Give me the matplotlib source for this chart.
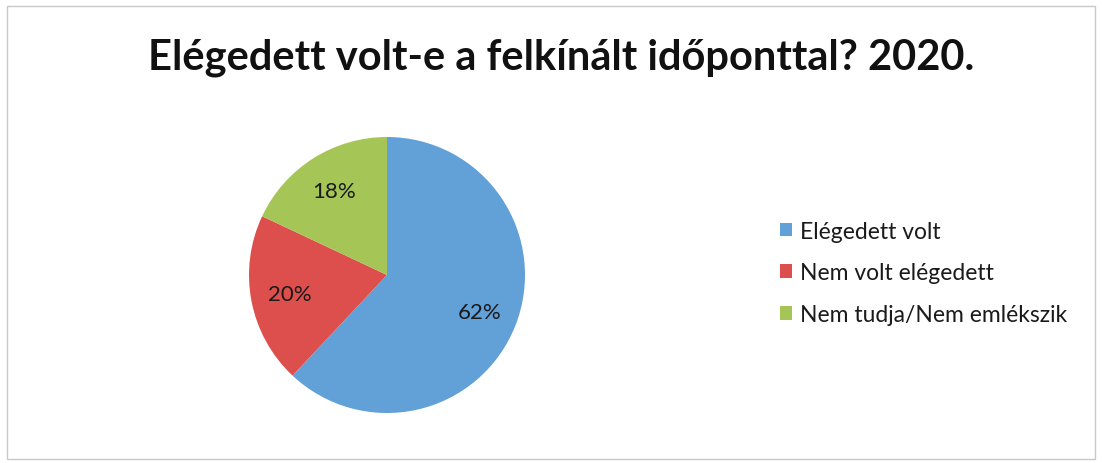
import matplotlib.pyplot as plt
from matplotlib.patches import Rectangle

plt.rcParams['font.family'] = ['Lato', 'DejaVu Sans']

title = 'Elégedett volt-e a felkínált időponttal? 2020.'
labels = ['Elégedett volt', 'Nem volt elégedett', 'Nem tudja/Nem emlékszik']
values = [62, 20, 18]
colors = ['#62a0d8', '#dd4f4c', '#a5c656']

fig = plt.figure(figsize=(11.02, 4.64), dpi=100)
fig.patches.append(Rectangle((7 / 1102, 4 / 464), 1088 / 1102, 453 / 464,
                             transform=fig.transFigure, fill=False,
                             edgecolor='#c8c8c8', linewidth=1))

fig.text(0.509, 0.875, title, ha='center', va='center',
         fontsize=30, fontweight='bold', color='#111111')

ax = fig.add_axes([249 / 1102, 50 / 464, 276 / 1102, 276 / 464])
wedges, texts, autotexts = ax.pie(values, colors=colors, startangle=90,
                                  counterclock=False, autopct='%d%%',
                                  pctdistance=0.72,
                                  textprops={'fontsize': 16, 'color': '#1a1a1a'})
ax.set_xlim(-1, 1)
ax.set_ylim(-1, 1)
ax.set_aspect('equal')

fig.legend(wedges, labels, loc='center left', bbox_to_anchor=(0.697, 0.41),
           frameon=False, fontsize=16.5, handlelength=0.55, handleheight=0.55,
           handletextpad=0.35, labelspacing=0.9, labelcolor='#1a1a1a',
           borderpad=0)

fig.savefig('out.png', dpi=100)
